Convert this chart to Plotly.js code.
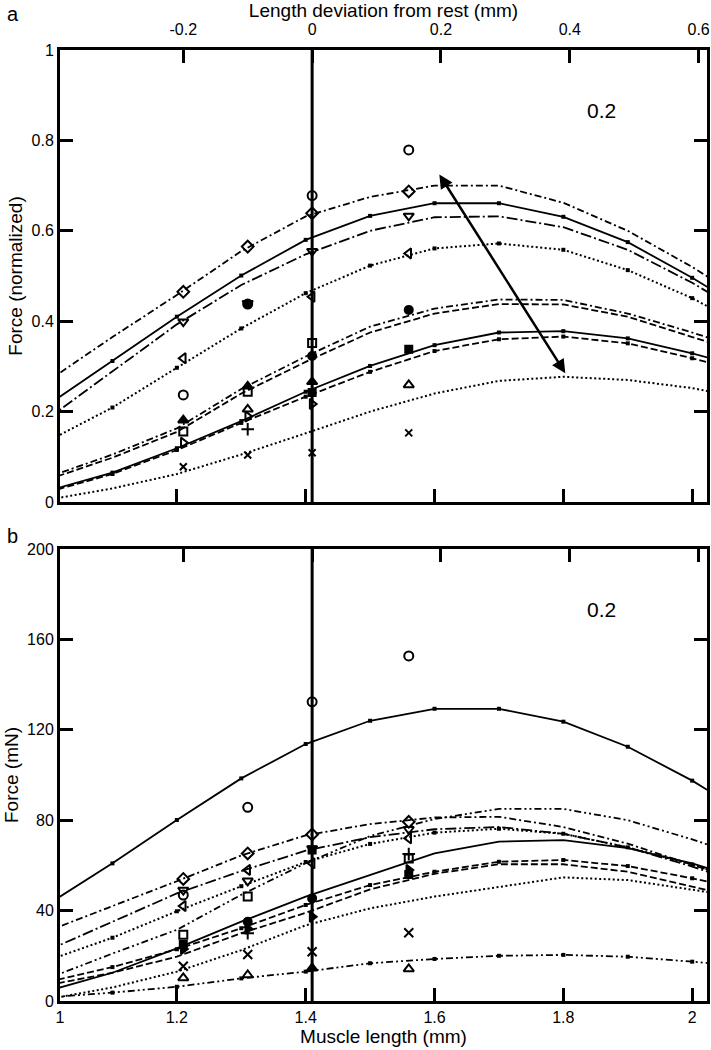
<!DOCTYPE html>
<html>
<head>
<meta charset="utf-8">
<script src="https://cdn.plot.ly/plotly-3.0.1.min.js"></script>
<style>html,body{margin:0;padding:0;background:#fff;overflow:hidden;}#chart{width:711px;height:1050px;}</style>
</head>
<body>
<div id="chart"></div>
<script>
// ---------- DATA ----------
const sampleLength = [1.0, 1.1, 1.2, 1.3, 1.4, 1.5, 1.6, 1.7, 1.8, 1.9, 2.0, 2.1];
const expLength = [1.21, 1.31, 1.41, 1.56];
const restLength = 1.41;
const deviationTicks = [-0.2, 0, 0.2, 0.4, 0.6];
const lengthTicks = [1.2, 1.4, 1.6, 1.8, 2.0];
const normTicks = [0, 0.2, 0.4, 0.6, 0.8, 1];
const forceTicks = [0, 40, 80, 120, 160, 200];

// panel a: normalized model curves
const normCurve1 = [0.268, 0.365, 0.458, 0.555, 0.632, 0.675, 0.700, 0.700, 0.662, 0.600, 0.520, 0.430];
const normCurve2 = [0.215, 0.312, 0.410, 0.501, 0.580, 0.633, 0.661, 0.661, 0.631, 0.575, 0.496, 0.410];
const normCurve3 = [0.185, 0.290, 0.393, 0.480, 0.548, 0.600, 0.630, 0.632, 0.608, 0.558, 0.485, 0.400];
const normCurve4 = [0.135, 0.209, 0.297, 0.384, 0.462, 0.523, 0.561, 0.572, 0.558, 0.513, 0.451, 0.375];
const normCurve5 = [0.055, 0.105, 0.163, 0.250, 0.322, 0.388, 0.428, 0.448, 0.447, 0.417, 0.375, 0.330];
const normCurve6 = [0.050, 0.098, 0.155, 0.240, 0.310, 0.375, 0.417, 0.438, 0.437, 0.410, 0.365, 0.320];
const normCurve7 = [0.025, 0.065, 0.119, 0.179, 0.244, 0.301, 0.347, 0.375, 0.378, 0.362, 0.329, 0.290];
const normCurve8 = [0.022, 0.062, 0.115, 0.175, 0.233, 0.288, 0.334, 0.360, 0.366, 0.351, 0.318, 0.280];
const normCurve9 = [0.005, 0.030, 0.062, 0.105, 0.152, 0.200, 0.240, 0.268, 0.277, 0.270, 0.252, 0.225];

// panel a: normalized experimental points
const normCircleOpen   = [0.237, 0.438, 0.678, 0.779];
const normDiamond      = [0.465, 0.565, 0.639, 0.687];
const normTriDown      = [0.399, 0.440, 0.555, 0.633];
const normTriLeft      = [0.318, null, 0.454, 0.550];
const normCircleFilled = [null, 0.438, 0.323, 0.425];
const normSquareOpen   = [0.156, 0.244, 0.352, null];
const normSquareFilled = [null, null, 0.242, 0.338];
const normTriUpFilled  = [0.181, 0.256, 0.266, null];
const normTriUpOpen    = [null, 0.205, null, 0.259];
const normTriRight     = [0.131, 0.189, 0.217, null];
const normPlus         = [null, 0.161, null, null];
const normCross        = [0.078, 0.104, 0.109, 0.153];

// panel b: force (mN) model curves
const mNCurve1  = [42.8, 60.9, 80.1, 98.5, 113.7, 124.0, 129.3, 129.3, 123.6, 112.5, 97.5, 80.0];
const mNCurve2  = [10.0, 21.0, 31.5, 47.0, 61.0, 73.0, 80.5, 85.0, 85.0, 80.0, 71.5, 62.0];
const mNCurve3  = [31.0, 42.0, 53.0, 64.4, 73.3, 78.3, 81.2, 81.5, 77.0, 69.6, 60.5, 51.0];
const mNCurve4  = [22.5, 35.0, 47.6, 57.5, 66.5, 72.5, 76.0, 77.0, 74.0, 68.0, 59.5, 50.0];
const mNCurve5  = [18.0, 28.0, 39.7, 50.8, 61.5, 69.5, 74.5, 76.2, 74.0, 68.0, 60.4, 51.0];
const mNCurve6  = [4.5, 12.5, 23.3, 35.1, 46.2, 55.8, 65.3, 70.5, 71.2, 67.6, 60.9, 52.0];
const mNCurve7  = [8.5, 15.0, 22.9, 32.2, 42.5, 51.3, 57.2, 61.6, 62.4, 59.7, 54.3, 48.0];
const mNCurve8  = [7.0, 12.5, 19.6, 30.0, 39.0, 49.4, 56.3, 60.5, 60.5, 57.2, 50.6, 44.0];
const mNCurve9  = [0.8, 6.0, 13.0, 22.5, 33.5, 41.0, 46.2, 50.6, 54.7, 53.5, 49.5, 45.0];
const mNCurve10 = [1.6, 3.7, 6.3, 10.0, 13.0, 16.7, 18.6, 20.0, 20.4, 19.6, 17.4, 15.0];

// panel b: experimental points (mN)
const mNCircleOpen   = [46.9, 85.7, 132.4, 152.7];
const mNDiamond      = [54.0, 65.3, 73.7, 79.3];
const mNTriDown      = [49.1, 53.2, 67.5, 76.0];
const mNTriLeft      = [42.0, 58.0, 60.9, 72.0];
const mNCircleFilled = [null, 35.1, 45.4, null];
const mNSquareOpen   = [29.3, 46.2, null, 63.0];
const mNSquareFilled = [25.0, null, 66.8, 56.0];
const mNTriUpFilled  = [null, null, 14.5, null];
const mNTriUpOpen    = [10.2, 11.5, null, 14.2];
const mNTriRight     = [23.0, 32.0, 37.3, 58.0];
const mNPlus         = [null, 30.0, null, 65.0];
const mNCross        = [15.4, 20.6, 21.8, 30.2];

// arrow in panel a (from, to) in muscle length / normalized force
const arrowFrom = [1.606, 0.728];
const arrowTo = [1.803, 0.285];

// ---------- STYLES ----------
const K = '#000';
const DASH = {
  solid: 'solid',
  dot: '2px,2.5px',
  dash: '7px,3px',
  dashdot: '7px,3px,2px,3px',
  longdashdot: '11px,3px,2px,3px',
  dashdotdot: '7px,3px,2px,3px,2px,3px'
};

function curve(y, dash, sq, xa, ya, w) {
  return {
    x: sampleLength, y: y, xaxis: xa, yaxis: ya, type: 'scatter',
    mode: sq ? 'lines+markers' : 'lines',
    line: {color: K, width: w || 1.8, dash: DASH[dash]},
    marker: {symbol: 'square', size: 4, color: K},
    hoverinfo: 'skip', showlegend: false
  };
}
function pts(y, symbol, xa, ya, size) {
  return {
    x: expLength, y: y, xaxis: xa, yaxis: ya, type: 'scatter', mode: 'markers',
    marker: {symbol: symbol, size: size || 9, color: K, line: {color: K, width: 2}},
    hoverinfo: 'skip', showlegend: false
  };
}
// invisible carrier traces so the top (deviation) axes are drawn
function carrier(xa, ya) {
  return {x: [deviationTicks[0]], y: [0], xaxis: xa, yaxis: ya, type: 'scatter', mode: 'markers',
          marker: {opacity: 0, size: 1}, hoverinfo: 'skip', showlegend: false};
}

const traces = [
  carrier('x2', 'y'),
  carrier('x4', 'y2'),
  curve(normCurve1, 'dashdot', false, 'x', 'y'),
  curve(normCurve2, 'solid', true, 'x', 'y'),
  curve(normCurve3, 'longdashdot', false, 'x', 'y'),
  curve(normCurve4, 'dot', true, 'x', 'y', 2),
  curve(normCurve5, 'dashdot', false, 'x', 'y'),
  curve(normCurve6, 'dash', false, 'x', 'y'),
  curve(normCurve7, 'solid', true, 'x', 'y'),
  curve(normCurve8, 'dash', true, 'x', 'y'),
  curve(normCurve9, 'dot', false, 'x', 'y', 2),

  pts(normCircleOpen, 'circle-open', 'x', 'y'),
  pts(normDiamond, 'diamond-open', 'x', 'y'),
  pts(normTriDown, 'triangle-down-open', 'x', 'y'),
  pts(normTriLeft, 'triangle-left-open', 'x', 'y'),
  pts(normCircleFilled, 'circle', 'x', 'y', 8),
  pts(normSquareOpen, 'square-open', 'x', 'y', 8),
  pts(normSquareFilled, 'square', 'x', 'y', 7),
  pts(normTriUpFilled, 'triangle-up', 'x', 'y', 9),
  pts(normTriUpOpen, 'triangle-up-open', 'x', 'y'),
  pts(normTriRight, 'triangle-right-open', 'x', 'y'),
  pts(normPlus, 'cross-thin-open', 'x', 'y'),
  pts(normCross, 'x-thin-open', 'x', 'y', 7),

  curve(mNCurve1, 'solid', true, 'x3', 'y2'),
  curve(mNCurve2, 'dashdotdot', false, 'x3', 'y2'),
  curve(mNCurve3, 'dashdot', false, 'x3', 'y2'),
  curve(mNCurve4, 'longdashdot', false, 'x3', 'y2'),
  curve(mNCurve5, 'dot', true, 'x3', 'y2', 2),
  curve(mNCurve6, 'solid', false, 'x3', 'y2'),
  curve(mNCurve7, 'dash', true, 'x3', 'y2'),
  curve(mNCurve8, 'dash', false, 'x3', 'y2'),
  curve(mNCurve9, 'dot', false, 'x3', 'y2', 2),
  curve(mNCurve10, 'dashdotdot', true, 'x3', 'y2'),

  pts(mNCircleOpen, 'circle-open', 'x3', 'y2'),
  pts(mNDiamond, 'diamond-open', 'x3', 'y2'),
  pts(mNTriDown, 'triangle-down-open', 'x3', 'y2'),
  pts(mNTriLeft, 'triangle-left-open', 'x3', 'y2'),
  pts(mNCircleFilled, 'circle', 'x3', 'y2', 8),
  pts(mNSquareOpen, 'square-open', 'x3', 'y2', 8),
  pts(mNSquareFilled, 'square', 'x3', 'y2', 7),
  pts(mNTriUpFilled, 'triangle-up', 'x3', 'y2', 9),
  pts(mNTriUpOpen, 'triangle-up-open', 'x3', 'y2'),
  pts(mNTriRight, 'triangle-right', 'x3', 'y2'),
  pts(mNPlus, 'cross-thin-open', 'x3', 'y2'),
  pts(mNCross, 'x-thin-open', 'x3', 'y2', 9)
];

const FONT = 'Arial, "Liberation Sans", sans-serif';
const lenRange = [1.0186, 2.023];
const devRange = [lenRange[0] - restLength, lenRange[1] - restLength];

const axBase = {
  showline: true, linecolor: K, linewidth: 3, showgrid: false, zeroline: false,
  ticks: 'inside', ticklen: 13, tickwidth: 3, tickcolor: K,
  tickfont: {family: FONT, size: 16, color: K}
};

const layout = {
  width: 711, height: 1050,
  margin: {l: 60, r: 4, t: 50, b: 49},
  paper_bgcolor: '#fff', plot_bgcolor: 'rgba(0,0,0,0)',
  font: {family: FONT, color: K},
  xaxis: Object.assign({}, axBase, {
    domain: [0, 1], anchor: 'y', range: lenRange,
    tickmode: 'array', tickvals: lengthTicks, showticklabels: false
  }),
  xaxis2: Object.assign({}, axBase, {
    overlaying: 'x', anchor: 'y', side: 'top', range: devRange,
    tickmode: 'array', tickvals: deviationTicks,
    ticktext: deviationTicks.map(v => String(v)),
    ticklabelstandoff: 6,
    title: {text: 'Length deviation from rest (mm)', font: {family: FONT, size: 19, color: K}, standoff: 6}
  }),
  yaxis: Object.assign({}, axBase, {
    domain: [0.5247, 1], anchor: 'x', range: [0, 1], mirror: 'ticks',
    tickmode: 'array', tickvals: normTicks, ticktext: normTicks.map(v => String(v)),
    title: {text: 'Force (normalized)', font: {family: FONT, size: 19, color: K}, standoff: 4}
  }),
  xaxis3: Object.assign({}, axBase, {
    domain: [0, 1], anchor: 'y2', range: lenRange,
    tickmode: 'array', tickvals: [lenRange[0]].concat(lengthTicks),
    ticktext: ['1'].concat(lengthTicks.map(v => String(v))),
    title: {text: 'Muscle length (mm)', font: {family: FONT, size: 19, color: K}, standoff: 2}
  }),
  xaxis4: Object.assign({}, axBase, {
    overlaying: 'x3', anchor: 'y2', side: 'top', range: devRange,
    tickmode: 'array', tickvals: deviationTicks, showticklabels: false
  }),
  yaxis2: Object.assign({}, axBase, {
    domain: [0, 0.4753], anchor: 'x3', range: [0, 200], mirror: 'ticks',
    tickmode: 'array', tickvals: forceTicks, ticktext: forceTicks.map(v => String(v)),
    title: {text: 'Force (mN)', font: {family: FONT, size: 19, color: K}, standoff: 4}
  }),
  shapes: [
    {type: 'line', xref: 'x', yref: 'y domain', x0: restLength, x1: restLength, y0: 0, y1: 1, line: {color: K, width: 3}},
    {type: 'line', xref: 'x3', yref: 'y2 domain', x0: restLength, x1: restLength, y0: 0, y1: 1, line: {color: K, width: 3}}
  ],
  annotations: [
    {xref: 'x', yref: 'y', x: arrowTo[0], y: arrowTo[1], ax: arrowFrom[0], ay: arrowFrom[1],
     axref: 'x', ayref: 'y', text: '', showarrow: true, arrowhead: 2, startarrowhead: 2,
     arrowside: 'end+start', arrowsize: 1.1, startarrowsize: 1.1, arrowwidth: 2.5, arrowcolor: K},
    {xref: 'x domain', yref: 'y domain', x: 0.862, y: 0.896, text: '0.2', showarrow: false,
     font: {family: FONT, size: 21, color: K}},
    {xref: 'x3 domain', yref: 'y2 domain', x: 0.862, y: 0.896, text: '0.2', showarrow: false,
     font: {family: FONT, size: 21, color: K}},
    {xref: 'paper', yref: 'paper', x: -0.085, y: 1.052, xanchor: 'left', yanchor: 'top', text: 'a', showarrow: false,
     font: {family: FONT, size: 20, color: K}},
    {xref: 'paper', yref: 'paper', x: -0.085, y: 0.5025, xanchor: 'left', yanchor: 'top', text: 'b', showarrow: false,
     font: {family: FONT, size: 20, color: K}}
  ]
};

Plotly.newPlot('chart', traces, layout, {staticPlot: true, displayModeBar: false});
</script>
</body>
</html>
